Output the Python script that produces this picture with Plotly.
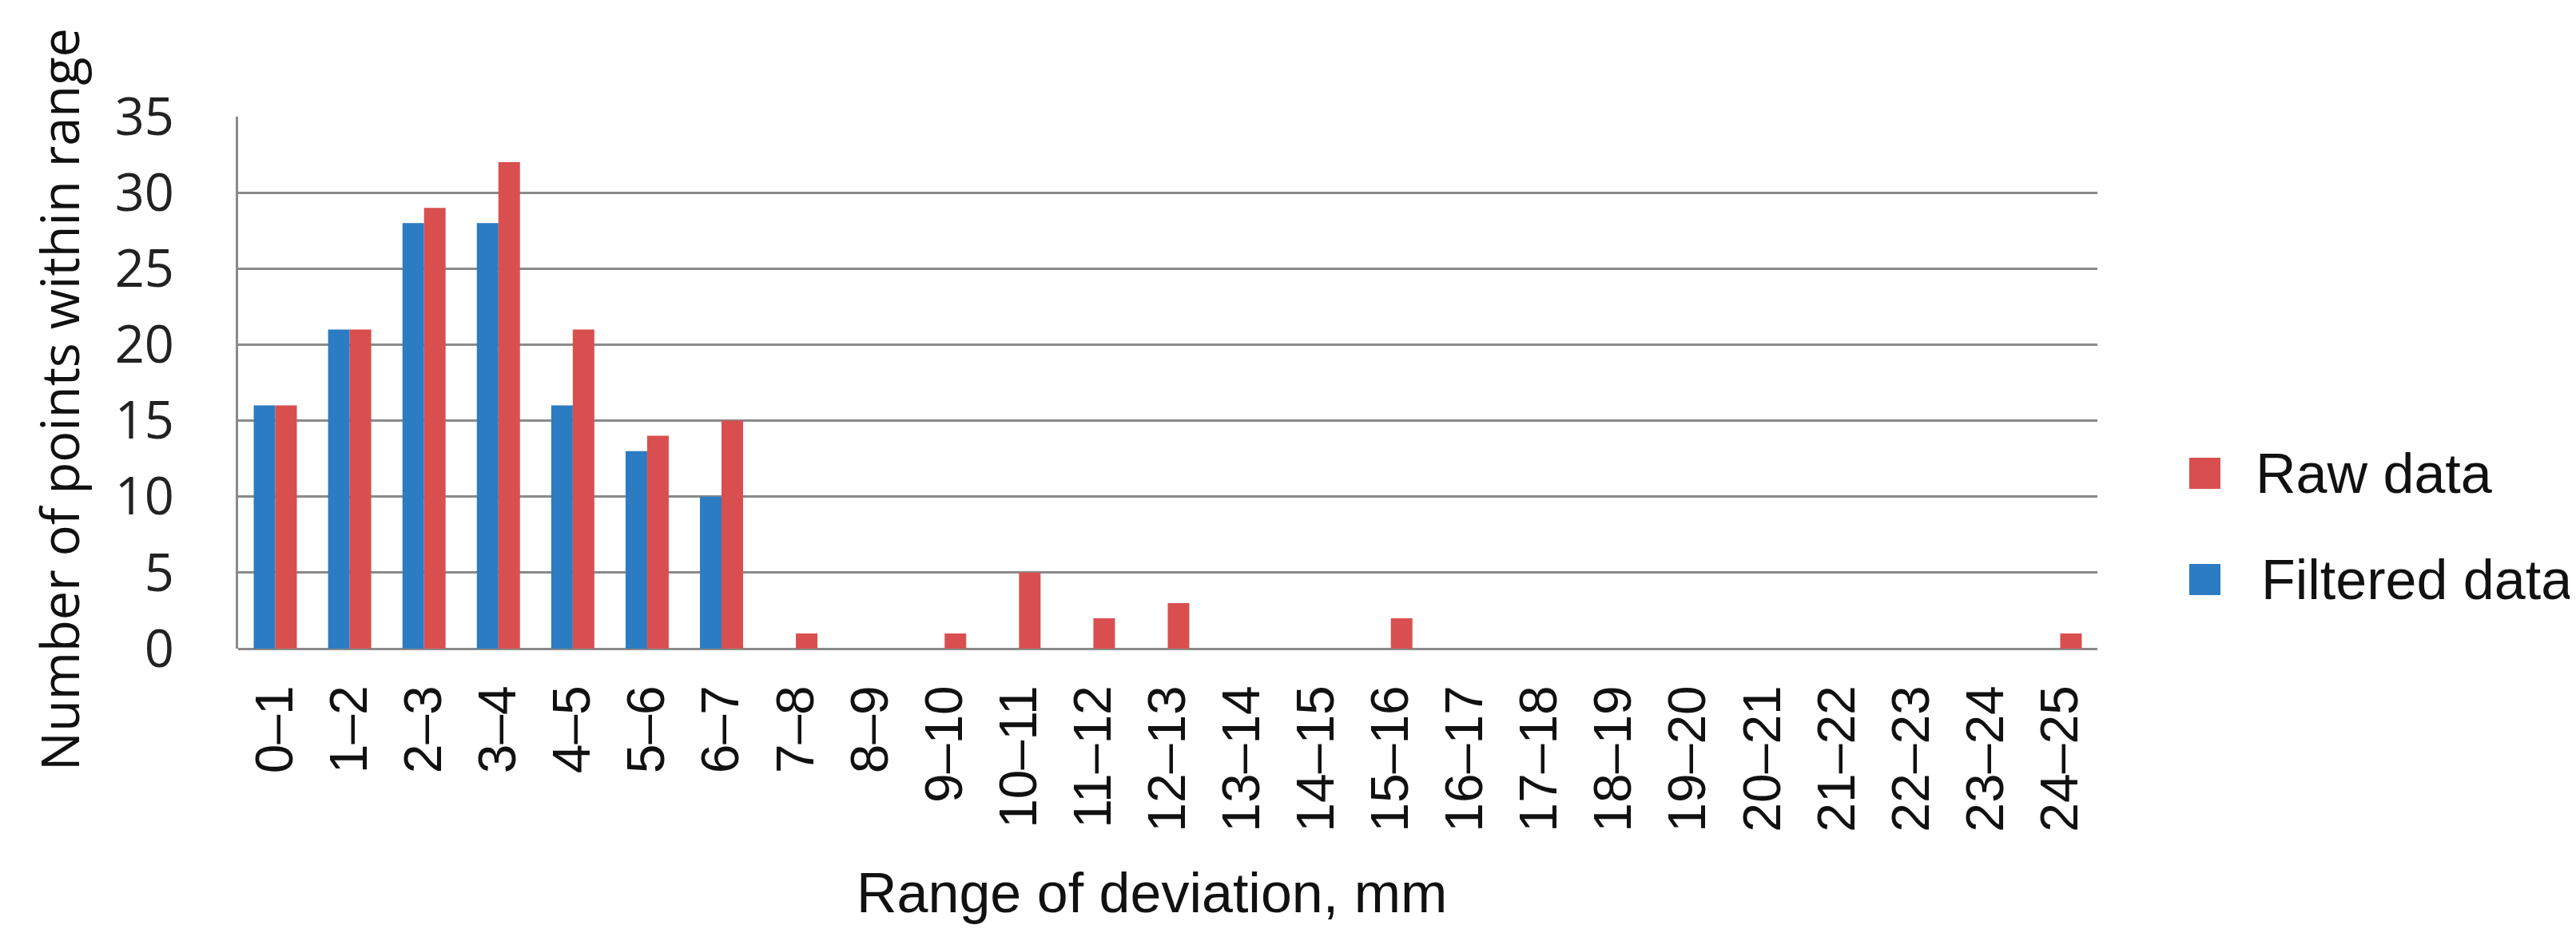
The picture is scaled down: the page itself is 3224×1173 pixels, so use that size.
import plotly.graph_objects as go

categories = ["0–1", "1–2", "2–3", "3–4", "4–5", "5–6", "6–7", "7–8", "8–9", "9–10",
              "10–11", "11–12", "12–13", "13–14", "14–15", "15–16", "16–17", "17–18",
              "18–19", "19–20", "20–21", "21–22", "22–23", "23–24", "24–25"]
filtered = [16, 21, 28, 28, 16, 13, 10, 0, 0, 0, 0, 0, 0, 0, 0, 0, 0, 0, 0, 0, 0, 0, 0, 0, 0]
raw = [16, 21, 29, 32, 21, 14, 15, 1, 0, 1, 5, 2, 3, 0, 0, 2, 0, 0, 0, 0, 0, 0, 0, 0, 1]
y_ticks = [0, 5, 10, 15, 20, 25, 30, 35]

BLUE = "#2B7CC2"
RED = "#D94F4F"
GRID = "#8A8A8A"

W, H = 3224, 1173
L, R, T, B = 290, 607, 138, 369
PW = W - L - R
PH = H - T - B


def px(x):
    return (x - L) / PW


def py(y):
    return (H - B - y) / PH


fig = go.Figure()
fig.add_trace(go.Bar(x=categories, y=filtered, name="Filtered data",
                     marker=dict(color=BLUE, line=dict(width=0)), showlegend=False))
fig.add_trace(go.Bar(x=categories, y=raw, name="Raw data",
                     marker=dict(color=RED, line=dict(width=0)), showlegend=False))

fig.update_layout(
    width=W, height=H,
    margin=dict(l=L, r=R, t=T, b=B, autoexpand=False),
    paper_bgcolor="white", plot_bgcolor="white",
    barmode="group", bargap=0.42, bargroupgap=0,
    showlegend=False,
)
fig.update_xaxes(
    type="category", tickangle=-90, showgrid=False, zeroline=False,
    showline=False, ticks="",
    tickfont=dict(family="Liberation Sans, Arial", size=66, color="#111111"),
    ticklabelstandoff=32, automargin=False,
)
fig.update_yaxes(
    range=[0, 35], tickvals=y_ticks, showgrid=True, gridcolor=GRID, gridwidth=3,
    zeroline=True, zerolinecolor=GRID, zerolinewidth=3,
    showline=True, linecolor=GRID, linewidth=3, ticks="",
    tickfont=dict(family="Open Sans", size=65, color="#222222"),
    ticklabelstandoff=64, automargin=False,
)

# axis titles
fig.add_annotation(text="Number of points within range", xref="paper", yref="paper",
                   x=px(66), y=py(492), xanchor="center", yanchor="middle",
                   textangle=-90, showarrow=False,
                   font=dict(family="Open Sans", size=65, color="#111111"))
fig.add_annotation(text="Range of deviation, mm", xref="paper", yref="paper",
                   x=px(1433), y=py(1110), xanchor="center", yanchor="middle",
                   showarrow=False,
                   font=dict(family="Liberation Sans, Arial", size=70, color="#111111"))

# legend
legend_items = [("Raw data", RED, 565, 2813), ("Filtered data", BLUE, 698, 2820)]
for label, color, ytop, xtext in legend_items:
    fig.add_shape(type="rect", xref="paper", yref="paper",
                  x0=px(2732), x1=px(2771), y0=py(ytop + 39), y1=py(ytop),
                  fillcolor=color, line=dict(width=0))
    fig.add_annotation(text=label, xref="paper", yref="paper",
                       x=px(xtext), y=py(ytop + 19.5), xanchor="left", yanchor="middle",
                       showarrow=False,
                       font=dict(family="Liberation Sans, Arial", size=70, color="#111111"))

fig.write_html("out.html")
